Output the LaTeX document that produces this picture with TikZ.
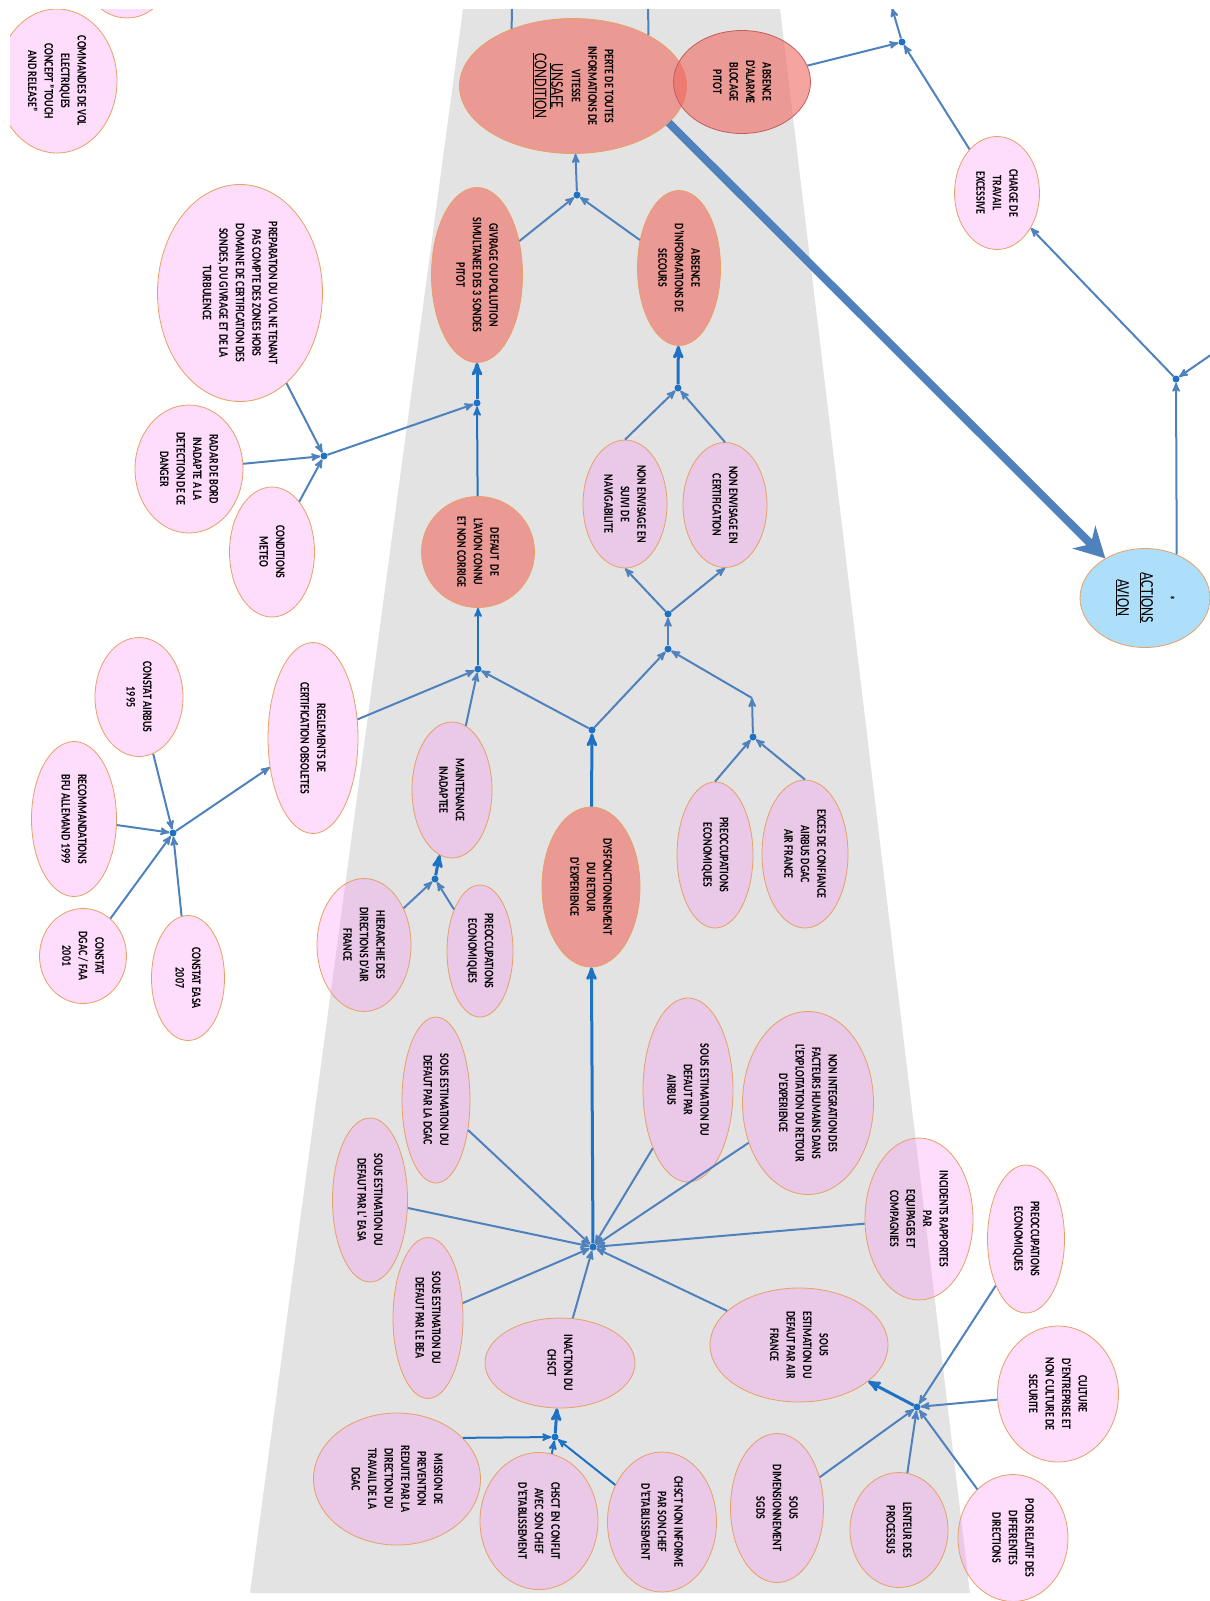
\documentclass[tikz,border=0pt]{standalone}
\usepackage{fontspec}
\setmainfont{Carlito}[FakeStretch=0.77]
\usepackage{tikz}
\usetikzlibrary{arrows,arrows.meta,shapes.geometric}
\definecolor{rose}{RGB}{248,138,245}
\definecolor{saumon}{RGB}{239,104,96}
\definecolor{bleuciel}{RGB}{173,222,250}
\definecolor{bordorange}{RGB}{232,160,100}
\definecolor{bordrouge}{RGB}{196,92,92}
\definecolor{bleulien}{RGB}{79,129,189}
\definecolor{bleuvif}{RGB}{30,114,196}
\definecolor{fondgris}{RGB}{227,227,227}
\newcommand{\texte}{\fontsize{13}{16.5}\selectfont\bfseries}
\newcommand{\titre}{\fontsize{18}{24}\selectfont\mdseries}
\tikzset{
  >=stealth',
  cause/.style={
    ellipse,
    draw=bordorange, line width=0.8pt,
    fill=rose, fill opacity=0.3, text opacity=1,
    rotate=-90,
    inner sep=0pt,
    align=center,
    font=\texte},
  danger/.style={cause, fill=saumon, fill opacity=0.6},
  action/.style={cause, fill=bleuciel, fill opacity=1, font=\titre},
  taille/.style 2 args={minimum width=#1pt, minimum height=#2pt},
  jonction/.style={circle, fill=bleuvif, inner sep=0pt, minimum size=7pt},
  lien/.style={->, draw=bleulien, line width=2pt},
  lienvif/.style={lien, draw=bleuvif},
  lienfort/.style={lienvif, line width=3pt},
  grossefleche/.style={-{Stealth[length=30pt,width=32pt]}, draw=bleulien, line width=8pt},
}

\begin{document}
\begin{tikzpicture}[x=1pt,y=-1pt]
  \useasboundingbox (0,0) rectangle (1210,1601);
  \begin{scope}
  \clip (10,9) rectangle (1210,1601);
  % fond
  \fill[fondgris] (463,9) -- (780,9) -- (970,1593) -- (250,1593) -- cycle;

  % condition dangereuse
  \node[danger, taille={135}{227}] (perte) at (573,86)
    {PERTE DE TOUTES\\INFORMATIONS DE\\VITESSE\\[4pt]{\titre\underline{UNSAFE}}\\{\titre\underline{CONDITION}}};
  \node[danger, draw=bordrouge, taille={103}{137}] (alarme) at (742,82) {ABSENCE\\D'ALARME\\BLOCAGE\\PITOT};
  \node[danger, taille={175}{91}] (givrage) at (477,275) {GIVRAGE OU POLLUTION\\SIMULTANEE DES 3 SONDES\\PITOT};
  \node[danger, taille={155}{83}] (absinfo) at (679,268) {ABSENCE\\D'INFORMATIONS DE\\SECOURS};
  \node[danger, taille={111}{113}] (defaut) at (478,552) {DEFAUT\ \ DE\\L'AVION CONNU\\ET NON CORRIGE};
  \node[danger, taille={160}{98}] (dysf) at (591,887) {DYSFONCTIONNEMENT\\DU RETOUR\\D'EXPERIENCE};
  \node[action, taille={99}{130}] (actions) at (1145,598) {{\texte *}\\\underline{ACTIONS}\\\underline{AVION}};

  % causes
  \node[cause, taille={86}{84}] (hautgauche) at (127,-25) {};
  \node[cause, taille={144}{120}] (commandes) at (57,81) {COMMANDES DE VOL\\ELECTRIQUES\\CONCEPT "TOUCH\\AND RELEASE"};
  \node[cause, taille={113}{85}] (charge) at (997,193) {CHARGE DE\\TRAVAIL\\EXCESSIVE};
  \node[cause, taille={217}{165}] (preparation) at (240,293)
    {PREPARATION DU VOL NE TENANT\\PAS COMPTE DES ZONES HORS\\DOMAINE DE CERTIFICATION DES\\SONDES, DU GIVRAGE ET DE LA\\TURBULENCE};
  \node[cause, taille={128}{108}] (radar) at (189,469) {RADAR DE BORD\\INADAPTE A LA\\DETECTION DE CE\\DANGER};
  \node[cause, taille={130}{85}] (meteo) at (272,552) {CONDITIONS\\METEO};
  \node[cause, taille={128}{84}] (nav) at (625,504) {NON ENVISAGE EN\\SUIVI DE\\NAVIGABILITE};
  \node[cause, taille={125}{84}] (cert) at (725,505) {NON ENVISAGE EN\\CERTIFICATION};
  \node[cause, taille={191}{90}] (reglements) at (313,738) {REGLEMENTS DE\\CERTIFICATION OBSOLETES};
  \node[cause, taille={136}{80}] (maint) at (452,790) {MAINTENANCE\\INADAPTEE};
  \node[cause, taille={132}{66}] (preoc2) at (480,951) {PREOCCUPATIONS\\ECONOMIQUES};
  \node[cause, taille={133}{94}] (hierarchie) at (364,945) {HIERARCHIE DES\\DIRECTIONS D'AIR\\FRANCE};
  \node[cause, taille={119}{88}] (airbus95) at (139,697) {CONSTAT AIRBUS\\1995};
  \node[cause, taille={155}{85}] (reco) at (74,819) {RECOMMANDATIONS\\BFU ALLEMAND 1999};
  \node[cause, taille={95}{87}] (dgacfaa) at (83,956) {CONSTAT\\DGAC / FAA\\2001};
  \node[cause, taille={125}{73}] (easa07) at (188,978) {CONSTAT EASA\\2007};
  \node[cause, taille={146}{76}] (preoc1) at (715,855) {PREOCCUPATIONS\\ECONOMIQUES};
  \node[cause, taille={148}{86}] (exces) at (805,854) {EXCES DE CONFIANCE\\AIRBUS DGAC\\AIR FRANCE};
  \node[cause, taille={166}{68}] (sedgac) at (436,1100) {SOUS ESTIMATION DU\\DEFAUT PAR LA DGAC};
  \node[cause, taille={164}{75}] (seeasa) at (370,1200) {SOUS ESTIMATION DU\\DEFAUT PAR L' EASA};
  \node[cause, taille={161}{70}] (sebea) at (428,1318) {SOUS ESTIMATION DU\\DEFAUT PAR LE BEA};
  \node[cause, taille={90}{150}] (inaction) at (560,1363) {INACTION DU\\CHSCT};
  \node[cause, taille={184}{90}] (seairbus) at (688,1090) {SOUS ESTIMATION DU\\DEFAUT PAR\\AIRBUS};
  \node[cause, taille={183}{131}] (facteurs) at (808,1103)
    {NON INTEGRATION DES\\FACTEURS HUMAINS DANS\\L'EXPLOITATION DU RETOUR\\D'EXPERIENCE};
  \node[cause, taille={162}{108}] (incidents) at (919,1219) {INCIDENTS RAPPORTES\\PAR\\EQUIPAGES ET\\COMPAGNIES};
  \node[cause, taille={114}{178}] (seaf) at (799,1345) {SOUS\\ESTIMATION DU\\DEFAUT PAR AIR\\FRANCE};
  \node[cause, taille={132}{167}] (mission) at (397,1479)
    {MISSION DE\\PREVENTION\\REDUITE PAR LA\\DIRECTION DU\\TRAVAIL DE LA\\DGAC};
  \node[cause, taille={137}{118}] (conflit) at (539,1521) {CHSCT EN CONFLIT\\AVEC SON CHEF\\D'ETABLISSEMENT};
  \node[cause, taille={140}{109}] (noninforme) at (662,1522) {CHSCT NON INFORME\\PAR SON CHEF\\D'ETABLISSEMENT};
  \node[cause, taille={148}{77}] (preoc3) at (1026,1239) {PREOCCUPATIONS\\ECONOMIQUES};
  \node[cause, taille={136}{121}] (culture) at (1058,1394) {CULTURE\\D'ENTREPRISE ET\\NON CULTURE DE\\SECURITE};
  \node[cause, taille={127}{110}] (poids) at (1013,1538) {POIDS RELATIF DES\\DIFFERENTES\\DIRECTIONS};
  \node[cause, taille={115}{98}] (lenteur) at (899,1530) {LENTEUR DES\\PROCESSUS};
  \node[cause, taille={149}{93}] (sgds) at (777,1508) {SOUS\\DIMENSIONNEMENT\\SGDS};

  % jonctions
  \node[jonction] (jperte) at (577,195) {};
  \node[jonction] (jgivrage) at (477,403) {};
  \node[jonction] (jmeteo) at (324,456) {};
  \node[jonction] (jsecours) at (678,388) {};
  \node[jonction] (jnonenv) at (668,614) {};
  \node[jonction] (jb) at (668,649) {};
  \node[jonction] (jexces) at (753,737) {};
  \node[jonction] (jdysf) at (592,730) {};
  \node[jonction] (jdefaut) at (478,669) {};
  \node[jonction] (jmaint) at (435,879) {};
  \node[jonction] (jconstat) at (173,833) {};
  \node[jonction] (jmain) at (593,1247) {};
  \node[jonction] (jchsct) at (555,1437) {};
  \node[jonction] (jaf) at (917,1407) {};
  \node[jonction] (jtop) at (902,42) {};
  \node[jonction] (jright) at (1176,379) {};
  \coordinate (exceshaut) at (752,698);
  \coordinate (hautA) at (512,0);
  \coordinate (hautB) at (648,0);
  \coordinate (hautC) at (892,8);
  \coordinate (droite) at (1215,352);

  % liens
  \draw[lien] (jperte) -- (perte);
  \draw[lien] (givrage) -- (jperte);
  \draw[lien] (absinfo) -- (jperte);
  \draw[lien,-] (perte.227) -- (hautA);
  \draw[lien,-] (perte.124) -- (hautB);
  \draw[lienfort] (jgivrage) -- (givrage);
  \draw[lienvif] (defaut) -- (jgivrage);
  \draw[lien] (jmeteo) -- (jgivrage);
  \draw[lien] (preparation) -- (jmeteo);
  \draw[lien] (radar) -- (jmeteo);
  \draw[lien] (meteo) -- (jmeteo);
  \draw[lienfort] (jsecours) -- (absinfo);
  \draw[lien] (nav.west) -- (jsecours);
  \draw[lien] (cert.west) -- (jsecours);
  \draw[lien] (jnonenv) -- (nav.east);
  \draw[lien] (jnonenv) -- (cert.east);
  \draw[lien] (jb) -- (jnonenv);
  \draw[lien] (jdysf) -- (jb);
  \draw[lien] (exceshaut) -- (jb);
  \draw[lien] (jexces) -- (exceshaut);
  \draw[lien] (preoc1.west) -- (jexces);
  \draw[lien] (exces.west) -- (jexces);
  \draw[lienfort] (dysf) -- (jdysf);
  \draw[lien] (jdysf) -- (jdefaut);
  \draw[lienvif] (jdefaut) -- (defaut);
  \draw[lien] (reglements) -- (jdefaut);
  \draw[lien] (maint) -- (jdefaut);
  \draw[lienfort] (jmaint) -- (maint);
  \draw[lien] (preoc2) -- (jmaint);
  \draw[lien] (hierarchie) -- (jmaint);
  \draw[lien] (jconstat) -- (reglements);
  \draw[lien] (airbus95) -- (jconstat);
  \draw[lien] (reco) -- (jconstat);
  \draw[lien] (dgacfaa) -- (jconstat);
  \draw[lien] (easa07) -- (jconstat);
  \draw[lienfort] (jmain) -- (dysf);
  \draw[lien] (sedgac) -- (jmain);
  \draw[lien] (seeasa) -- (jmain);
  \draw[lien] (sebea) -- (jmain);
  \draw[lien] (inaction) -- (jmain);
  \draw[lien] (seairbus) -- (jmain);
  \draw[lien] (facteurs) -- (jmain);
  \draw[lien] (incidents) -- (jmain);
  \draw[lien] (seaf) -- (jmain);
  \draw[lienfort] (jchsct) -- (inaction);
  \draw[lienvif] (mission.122) -- (jchsct);
  \draw[lienvif] (conflit) -- (jchsct);
  \draw[lienvif] (noninforme) -- (jchsct);
  \draw[lienfort] (jaf) -- (seaf);
  \draw[lien] (preoc3) -- (jaf);
  \draw[lien] (culture) -- (jaf);
  \draw[lien] (poids) -- (jaf);
  \draw[lien] (lenteur) -- (jaf);
  \draw[lien] (sgds) -- (jaf);
  \draw[lien] (alarme) -- (jtop);
  \draw[lien] (charge) -- (jtop);
  \draw[lien] (jtop) -- (hautC);
  \draw[lien] (jright) -- (charge);
  \draw[lien] (actions.144) -- (jright);
  \draw[lien] (droite) -- (jright);
  \draw[grossefleche] (perte.69) -- (actions);
  \end{scope}
\end{tikzpicture}
\end{document}
